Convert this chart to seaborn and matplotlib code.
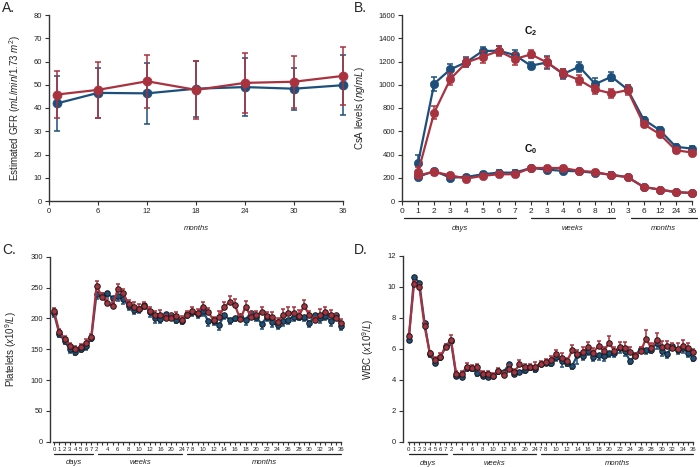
import numpy as np
import pandas as pd
import matplotlib
matplotlib.use("Agg")
import matplotlib.pyplot as plt
import seaborn as sns

# ---------------- data ----------------
# Panel A: estimated GFR
gfr_months = [1, 6, 12, 18, 24, 30, 36]
gfr_blue = [42.0, 46.5, 46.3, 48.3, 49.0, 48.3, 49.8]
gfr_blue_err = [11.7, 10.8, 13.2, 12.0, 12.5, 9.0, 12.8]
gfr_red = [45.8, 47.8, 51.5, 47.8, 50.8, 51.3, 53.8]
gfr_red_err = [10.2, 12.0, 11.5, 12.5, 12.8, 11.2, 12.6]

# Panel B: CsA levels
csa_labels = ["0", "1", "2", "3", "4", "5", "6", "7", "2", "3", "4", "6", "8", "10",
              "3", "6", "12", "24", "36"]
c2_blue = [330, 1010, 1132, 1195, 1290, 1293, 1256, 1164, 1192, 1092, 1155, 1006, 1069,
           960, 701, 609, 466, 451]
c2_blue_err = [70, 60, 50, 40, 35, 40, 45, 30, 55, 45, 45, 50, 40, 35, 25, 25, 25, 25]
c2_red = [250, 761, 1049, 1192, 1241, 1290, 1221, 1261, 1192, 1098, 1040, 960, 925, 954,
          661, 575, 437, 417]
c2_red_err = [45, 55, 50, 40, 50, 45, 50, 35, 50, 40, 40, 40, 40, 40, 25, 20, 20, 20]
c0_blue = [207, 259, 201, 207, 230, 244, 244, 284, 270, 259, 256, 241, 227, 204, 121, 98, 75, 69]
c0_blue_err = [20, 20, 20, 20, 20, 20, 20, 20, 20, 20, 20, 20, 20, 15, 15, 15, 12, 12]
c0_red = [221, 250, 221, 193, 216, 230, 230, 284, 284, 284, 259, 250, 221, 207, 121, 98, 78, 69]
c0_red_err = [25, 25, 20, 20, 20, 20, 20, 20, 20, 20, 20, 20, 20, 15, 15, 15, 12, 12]

# Panels C and D: time axis (8 days, 17 weeks, 30 months)
time_labels = (["0", "1", "2", "3", "4", "5", "6", "7"]
               + ["2", "", "4", "", "6", "", "8", "", "10", "", "12", "", "16", "", "20", "", "24"]
               + ["7", "8", "", "10", "", "12", "", "14", "", "16", "", "18", "", "20", "",
                  "22", "", "24", "", "26", "", "28", "", "30", "", "32", "", "34", "", "36"])

plat_blue = [208, 175, 163, 150, 146, 150, 155, 168,
             240, 238, 241, 233, 236, 232, 220, 214, 215, 222, 210, 200, 199, 207, 205, 198, 196,
             207, 210, 207, 212, 195, 196, 189, 205, 198, 201, 204, 198, 209, 202, 191,
             202, 194, 189, 195, 198, 203, 203, 203, 193, 205, 200, 204, 195, 205, 187]
plat_blue_err = [5, 5, 5, 6, 6, 5, 6, 5,
                 8, 7, 6, 8, 8, 8, 7, 7, 7, 6, 7, 7, 7, 6, 6, 6, 5,
                 6, 6, 6, 8, 7, 6, 8, 6, 7, 6, 7, 8, 7, 6, 8,
                 6, 8, 7, 7, 7, 7, 6, 7, 7, 6, 7, 6, 8, 6, 6]
plat_red = [212, 178, 166, 155, 151, 153, 160, 169,
            253, 235, 225, 220, 248, 241, 223, 219, 216, 220, 212, 205, 206, 200, 201, 204, 198,
            206, 212, 209, 219, 210, 197, 203, 219, 226, 221, 199, 219, 203, 205, 210,
            204, 202, 194, 205, 209, 209, 204, 220, 205, 197, 206, 210, 205, 200, 193]
plat_red_err = [5, 5, 5, 5, 5, 5, 6, 5,
                7, 6, 6, 7, 8, 7, 7, 7, 7, 7, 7, 7, 7, 6, 6, 7, 6,
                6, 6, 6, 8, 7, 6, 9, 8, 10, 10, 7, 9, 8, 7, 9,
                7, 8, 7, 10, 9, 10, 9, 9, 7, 6, 9, 8, 9, 7, 6]

wbc_blue = [6.6, 10.65, 10.25, 7.65, 5.65, 5.1, 5.45, 6.2,
            6.5, 4.25, 4.2, 4.75, 4.75, 4.45, 4.25, 4.2, 4.25, 4.55, 4.5, 5.0, 4.4, 4.5, 4.65, 4.8, 4.7,
            5.05, 5.1, 5.1, 5.5, 5.2, 5.1, 4.9, 5.6, 5.55, 5.85, 5.45, 5.6, 5.55, 5.75, 5.75,
            6.05, 5.85, 5.2, 5.6, 6.0, 5.9, 5.95, 6.35, 5.85, 5.65, 6.2, 5.9, 6.05, 5.75, 5.4]
wbc_blue_err = [0.15, 0.2, 0.2, 0.2, 0.15, 0.15, 0.15, 0.15,
                0.25, 0.15, 0.15, 0.15, 0.15, 0.2, 0.15, 0.15, 0.15, 0.15, 0.15, 0.2, 0.15, 0.15, 0.2, 0.15, 0.2,
                0.15, 0.15, 0.2, 0.3, 0.35, 0.2, 0.2, 0.6, 0.3, 0.25, 0.25, 0.3, 0.35, 0.3, 0.3,
                0.3, 0.3, 0.2, 0.2, 0.2, 0.25, 0.25, 0.35, 0.3, 0.25, 0.2, 0.25, 0.3, 0.3, 0.2]
wbc_red = [6.8, 10.2, 10.0, 7.45, 5.7, 5.3, 5.5, 6.1,
           6.6, 4.35, 4.35, 4.85, 4.75, 4.8, 4.35, 4.4, 4.25, 4.55, 4.3, 4.7, 4.5, 5.0, 4.8, 4.85, 4.85,
           5.05, 5.15, 5.3, 5.65, 5.4, 5.2, 5.9, 5.65, 5.8, 6.1, 5.75, 6.2, 5.85, 6.4, 5.85,
           6.1, 6.05, 5.8, 5.55, 5.85, 6.65, 6.05, 6.6, 6.15, 6.2, 6.05, 6.0, 6.2, 6.05, 5.8]
wbc_red_err = [0.15, 0.2, 0.2, 0.2, 0.15, 0.2, 0.2, 0.2,
               0.3, 0.2, 0.2, 0.25, 0.2, 0.2, 0.2, 0.2, 0.2, 0.2, 0.2, 0.25, 0.2, 0.3, 0.2, 0.2, 0.3,
               0.15, 0.2, 0.25, 0.3, 0.3, 0.2, 0.35, 0.3, 0.3, 0.35, 0.3, 0.3, 0.3, 0.45, 0.3,
               0.35, 0.4, 0.3, 0.2, 0.3, 0.6, 0.3, 0.4, 0.35, 0.3, 0.3, 0.35, 0.35, 0.35, 0.2]

# ---------------- style ----------------
BLUE = "#1d4f7c"
RED = "#a9323f"
AXC = "#333333"

sns.set_theme(style="ticks")
plt.rcParams["font.family"] = ["Liberation Sans", "DejaVu Sans"]
plt.rcParams["mathtext.fontset"] = "custom"
plt.rcParams["mathtext.rm"] = "Liberation Sans"
plt.rcParams["mathtext.it"] = "Liberation Sans:italic"
plt.rcParams["mathtext.bf"] = "Liberation Sans:bold"

fig = plt.figure(figsize=(7, 4.67), dpi=100)
W, H = 700, 467


def ax_px(x0, x1, ytop, ybot):
    return fig.add_axes([x0 / W, (H - ybot) / H, (x1 - x0) / W, (ybot - ytop) / H])


def draw(ax, x, y, err, color, ms, lw, mec, mew, mode="both", cap=2.0, z=3):
    df = pd.DataFrame({"x": list(x), "y": list(y)})
    sns.lineplot(data=df, x="x", y="y", ax=ax, color=color, marker="o", markersize=ms,
                 linewidth=lw, markeredgecolor=mec, markeredgewidth=mew,
                 errorbar=None, clip_on=False, zorder=z)
    e = np.asarray(err, dtype=float)
    zero = np.zeros_like(e)
    if mode == "up":
        yerr = [zero, e]
    elif mode == "down":
        yerr = [e, zero]
    else:
        yerr = e
    ax.errorbar(list(x), list(y), yerr=yerr, fmt="none", ecolor=color, elinewidth=1.1,
                capsize=cap, capthick=1.1, clip_on=False, zorder=z - 0.5)


def style_axes(ax, xls=5.5, yls=5.5):
    sns.despine(ax=ax)
    for s in ("left", "bottom"):
        ax.spines[s].set_color(AXC)
        ax.spines[s].set_linewidth(1.0)
    ax.tick_params(axis="both", direction="out", length=3, width=0.8, colors=AXC, pad=2)
    ax.tick_params(axis="x", labelsize=xls, labelcolor="#222222")
    ax.tick_params(axis="y", labelsize=yls, labelcolor="#222222")
    ax.set_xlabel("")
    ax.grid(False)


def bracket(ax, x0, x1, yline, ytext, text, fs):
    tr = ax.get_xaxis_transform()
    ax.plot([x0, x1], [yline, yline], transform=tr, color="#222222", lw=0.9, clip_on=False)
    ax.text((x0 + x1) / 2, ytext, text, transform=tr, ha="center", va="center",
            fontsize=fs, style="italic", color="#222222")


# ---------------- Panel A ----------------
axA = ax_px(49, 343, 15, 201)
draw(axA, gfr_months, gfr_blue, gfr_blue_err, BLUE, 6.5, 1.6, BLUE, 0.5, cap=2.5, z=3)
draw(axA, gfr_months, gfr_red, gfr_red_err, RED, 6.5, 1.6, RED, 0.5, cap=2.5, z=4)
axA.set_xlim(0, 36)
axA.set_ylim(0, 80)
axA.set_xticks(range(0, 37, 6))
axA.set_yticks(range(0, 81, 10))
style_axes(axA)
axA.set_ylabel("Estimated GFR $\\mathit{(mL/min/1.73\\ m^2)}$", fontsize=7, labelpad=8)
axA.text(0.5, -0.15, "months", transform=axA.transAxes, ha="center", va="center",
         fontsize=5.5, style="italic", color="#222222")

# ---------------- Panel B ----------------
axB = ax_px(402, 692, 15, 201)
pos_b = np.arange(1, len(csa_labels))
draw(axB, pos_b, c2_blue, c2_blue_err, BLUE, 6, 1.6, BLUE, 0.5, cap=2.0, z=3)
draw(axB, pos_b, c2_red, c2_red_err, RED, 6, 1.6, RED, 0.5, cap=2.0, z=4)
draw(axB, pos_b, c0_blue, c0_blue_err, BLUE, 6, 1.6, BLUE, 0.5, cap=2.0, z=3)
draw(axB, pos_b, c0_red, c0_red_err, RED, 6, 1.6, RED, 0.5, cap=2.0, z=4)
axB.set_xlim(0, len(csa_labels) - 1)
axB.set_ylim(0, 1600)
axB.set_xticks(np.arange(len(csa_labels)))
axB.set_xticklabels(csa_labels)
axB.set_yticks(range(0, 1601, 200))
style_axes(axB, xls=6, yls=5.5)
axB.set_ylabel("CsA levels $\\mathit{(ng/mL)}$", fontsize=7, labelpad=8)
axB.text(8, 1460, "$\\mathbf{C_2}$", ha="center", va="center", fontsize=7.5, color="#111111")
axB.text(8, 445, "$\\mathbf{C_0}$", ha="center", va="center", fontsize=7.5, color="#111111")
bracket(axB, 0.1, 7.1, -0.091, -0.15, "days", 5.5)
bracket(axB, 8.0, 13.2, -0.091, -0.15, "weeks", 5.5)
bracket(axB, 14.2, 18.3, -0.091, -0.15, "months", 5.5)

# ---------------- Panel C ----------------
n_t = len(time_labels)
pos_t = np.arange(n_t)
axC = ax_px(50, 343, 256.7, 441.7)
draw(axC, pos_t, plat_blue, plat_blue_err, BLUE, 4, 1.6, "#1a1a1a", 0.7, mode="down", cap=1.6, z=3)
draw(axC, pos_t, plat_red, plat_red_err, RED, 4, 1.6, "#1a1a1a", 0.7, mode="up", cap=1.6, z=4)
axC.set_xlim(-0.75, n_t - 0.7)
axC.set_ylim(0, 300)
axC.set_xticks(pos_t)
axC.set_xticklabels(time_labels)
axC.set_yticks(range(0, 301, 50))
style_axes(axC, xls=4.3, yls=5.5)
axC.tick_params(axis="x", length=2, pad=1.5)
axC.spines["bottom"].set_bounds(-0.2, n_t - 1)
axC.set_ylabel("Platelets $\\mathit{(x10^9/L)}$", fontsize=7, labelpad=8)
bracket(axC, 0.0, 7.3, -0.068, -0.115, "days", 5.5)
bracket(axC, 8.3, 24.1, -0.068, -0.115, "weeks", 5.5)
bracket(axC, 25.0, 54.0, -0.068, -0.115, "months", 5.5)

# ---------------- Panel D ----------------
axD = ax_px(403, 695, 256, 441.7)
draw(axD, pos_t, wbc_blue, wbc_blue_err, BLUE, 4, 1.6, "#1a1a1a", 0.7, mode="down", cap=1.6, z=3)
draw(axD, pos_t, wbc_red, wbc_red_err, RED, 4, 1.6, "#1a1a1a", 0.7, mode="up", cap=1.6, z=4)
axD.set_xlim(-1.1, n_t - 0.7)
axD.set_ylim(0, 12)
axD.set_xticks(pos_t)
axD.set_xticklabels(time_labels)
axD.set_yticks(range(0, 13, 2))
style_axes(axD, xls=4.3, yls=5.5)
axD.tick_params(axis="x", length=2, pad=1.5)
axD.spines["bottom"].set_bounds(-0.2, n_t - 1)
axD.set_ylabel("WBC $\\mathit{(x10^9/L)}$", fontsize=7, labelpad=8)
bracket(axD, 0.0, 7.3, -0.068, -0.115, "days", 5.5)
bracket(axD, 8.3, 24.1, -0.068, -0.115, "weeks", 5.5)
bracket(axD, 25.0, 54.0, -0.068, -0.115, "months", 5.5)

# ---------------- panel letters ----------------
fig.text(2 / W, 1 - 8 / H, "A.", fontsize=10, ha="left", va="center")
fig.text(354 / W, 1 - 8 / H, "B.", fontsize=10, ha="left", va="center")
fig.text(2 / W, 1 - 250 / H, "C.", fontsize=10, ha="left", va="center")
fig.text(354 / W, 1 - 250 / H, "D.", fontsize=10, ha="left", va="center")

fig.savefig("out.png", dpi=100)
